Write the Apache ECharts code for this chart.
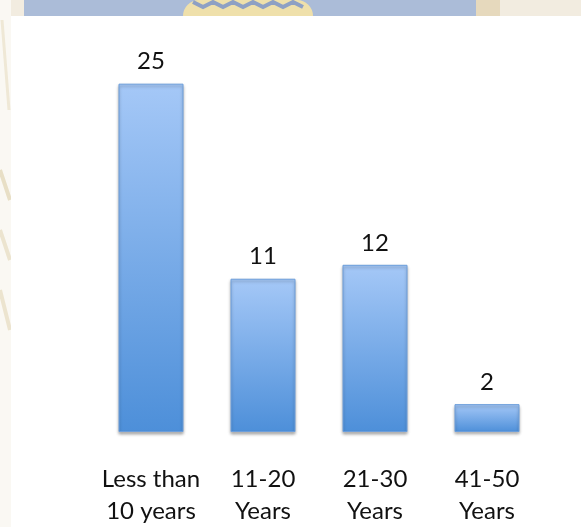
<!DOCTYPE html>
<html>
<head>
<meta charset="utf-8">
<style>
html,body{margin:0;padding:0;background:#fff;}
#chart{width:581px;height:527px;}
</style>
<script src="https://cdn.jsdelivr.net/npm/echarts@6/dist/echarts.min.js"></script>
</head>
<body>
<div id="chart"></div>
<script>
const categories = ['Less than\n10 years', '11-20\nYears', '21-30\nYears', '41-50\nYears'];
const values = [25, 11, 12, 2];

const chart = echarts.init(document.getElementById('chart'), null, {renderer: 'canvas'});

const bgGraphics = [
  {type: 'rect', shape: {x: 0, y: 0, width: 581, height: 16}, style: {fill: '#f2ece0'}, silent: true, z: -10},
  {type: 'rect', shape: {x: 24, y: 0, width: 452, height: 16}, style: {fill: '#abbcd8'}, silent: true, z: -9},
  {type: 'rect', shape: {x: 183, y: 0, width: 130, height: 16, r: [40, 40, 0, 0]}, style: {fill: '#efe0ab'}, silent: true, z: -8},
  {type: 'polyline', shape: {points: [[193,2],[203,7],[213,2],[223,7],[233,2],[243,7],[253,2],[263,7],[273,2],[283,7],[293,2],[303,7]]}, style: {stroke: '#8ea0c4', lineWidth: 4, fill: null}, silent: true, z: -7},
  {type: 'rect', shape: {x: 476, y: 0, width: 24, height: 16}, style: {fill: '#e6d9bd'}, silent: true, z: -8},
  {type: 'rect', shape: {x: 0, y: 0, width: 11, height: 527}, style: {fill: '#faf8f3'}, silent: true, z: -10},
  {type: 'line', shape: {x1: 2, y1: 20, x2: 9, y2: 110}, style: {stroke: '#efe8d6', lineWidth: 3}, silent: true, z: -7},
  {type: 'line', shape: {x1: 0, y1: 170, x2: 10, y2: 200}, style: {stroke: '#e8dfc6', lineWidth: 4}, silent: true, z: -7},
  {type: 'line', shape: {x1: 0, y1: 230, x2: 10, y2: 260}, style: {stroke: '#ece4cf', lineWidth: 4}, silent: true, z: -7},
  {type: 'line', shape: {x1: 0, y1: 290, x2: 10, y2: 330}, style: {stroke: '#ece4cf', lineWidth: 4}, silent: true, z: -7},
  {type: 'rect', shape: {x: 11, y: 16, width: 570, height: 511}, style: {fill: '#ffffff'}, silent: true, z: -6}
];

chart.setOption({
  backgroundColor: '#ffffff',
  animation: false,
  graphic: bgGraphics,
  grid: {left: 95, right: 38, top: 14, bottom: 93, containLabel: false},
  xAxis: {
    type: 'category',
    data: categories,
    axisLine: {show: false},
    axisTick: {show: false},
    axisLabel: {
      interval: 0,
      margin: 31,
      fontFamily: 'Lato',
      fontSize: 24,
      lineHeight: 32,
      color: '#111111'
    }
  },
  yAxis: {
    type: 'value',
    min: 0,
    max: 30,
    show: false,
    splitLine: {show: false}
  },
  series: [{
    type: 'bar',
    data: values,
    barWidth: 65,
    itemStyle: {
      color: new echarts.graphic.LinearGradient(0, 0, 0, 1, [
        {offset: 0, color: '#a5c8f7'},
        {offset: 1, color: '#4d8fd9'}
      ]),
      borderColor: '#6c9edb',
      borderWidth: 1,
      shadowColor: 'rgba(0,0,0,0.3)',
      shadowBlur: 3,
      shadowOffsetY: 2
    },
    label: {
      show: true,
      position: 'top',
      distance: 10,
      fontFamily: 'Lato',
      fontSize: 24,
      color: '#111111'
    }
  }]
});
</script>
</body>
</html>
